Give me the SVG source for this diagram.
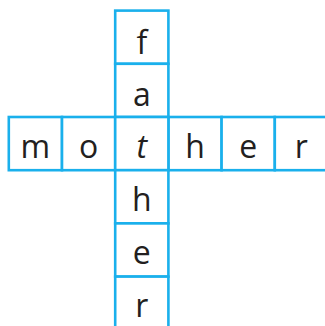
<svg xmlns="http://www.w3.org/2000/svg" width="325" height="326" viewBox="0 0 325 326">
<style>
.cell{fill:#ffffff;stroke:#1ab0ec;stroke-width:2.6}
.t{font-family:"Open Sans","Noto Sans",sans-serif;font-size:32px;fill:#231f20;text-anchor:middle}
.it{font-style:italic}
</style>
<rect width="325" height="326" fill="#ffffff"/>
<g id="connectors"></g>
<g id="row">
<g id="m1"><rect class="cell" x="8.8" y="117" width="53.2" height="53.2"/><text class="t" x="35.4" y="158">m</text></g>
<g id="o1"><rect class="cell" x="62" y="117" width="53.2" height="53.2"/><text class="t" x="88.6" y="158">o</text></g>
<g id="h1"><rect class="cell" x="168.4" y="117" width="53.2" height="53.2"/><text class="t" x="195" y="158">h</text></g>
<g id="e1"><rect class="cell" x="221.6" y="117" width="53.2" height="53.2"/><text class="t" x="248.2" y="158">e</text></g>
<g id="r1"><rect class="cell" x="274.8" y="117" width="53.2" height="53.2"/><text class="t" x="301.4" y="158">r</text></g>
</g>
<g id="column">
<g id="f2"><rect class="cell" x="115.2" y="10.6" width="53.2" height="53.2"/><text class="t" x="141.8" y="54">f</text></g>
<g id="a2"><rect class="cell" x="115.2" y="63.8" width="53.2" height="53.2"/><text class="t" x="141.8" y="106">a</text></g>
<g id="t"><rect class="cell" x="115.2" y="117" width="53.2" height="53.2"/><text class="t it" x="141.8" y="158">t</text></g>
<g id="h2"><rect class="cell" x="115.2" y="170.2" width="53.2" height="53.2"/><text class="t" x="141.8" y="211">h</text></g>
<g id="e2"><rect class="cell" x="115.2" y="223.4" width="53.2" height="53.2"/><text class="t" x="141.8" y="264">e</text></g>
<g id="r2"><rect class="cell" x="115.2" y="276.6" width="53.2" height="53.2"/><text class="t" x="141.8" y="317">r</text></g>
</g>
</svg>
